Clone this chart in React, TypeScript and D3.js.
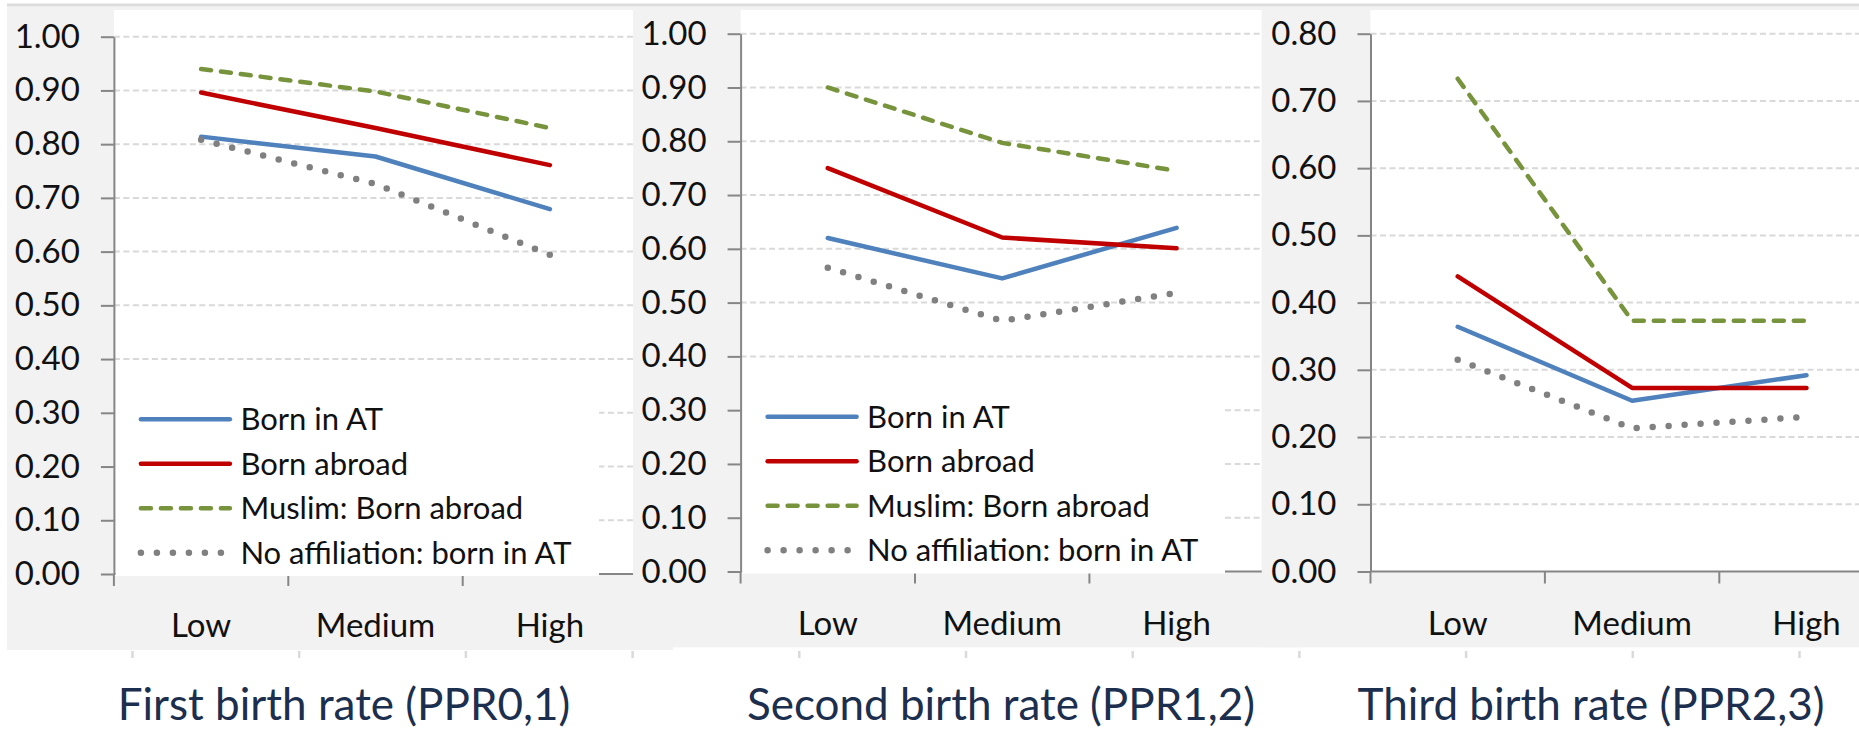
import React, { useRef, useEffect } from 'react';
import * as d3 from 'd3';

const categories = ['Low', 'Medium', 'High'];
const seriesNames = ['Born in AT', 'Born abroad', 'Muslim: Born abroad', 'No affiliation: born in AT'];

const firstBornInAT = [0.814, 0.777, 0.679];
const firstBornAbroad = [0.896, 0.830, 0.761];
const firstMuslimAbroad = [0.940, 0.898, 0.830];
const firstNoAffiliation = [0.808, 0.726, 0.594];

const secondBornInAT = [0.620, 0.545, 0.639];
const secondBornAbroad = [0.750, 0.621, 0.601];
const secondMuslimAbroad = [0.900, 0.797, 0.745];
const secondNoAffiliation = [0.565, 0.466, 0.518];

const thirdBornInAT = [0.364, 0.254, 0.292];
const thirdBornAbroad = [0.439, 0.273, 0.273];
const thirdMuslimAbroad = [0.733, 0.373, 0.373];
const thirdNoAffiliation = [0.315, 0.213, 0.230];

const ticksToOne = [0, 0.1, 0.2, 0.3, 0.4, 0.5, 0.6, 0.7, 0.8, 0.9, 1.0];
const ticksToEight = [0, 0.1, 0.2, 0.3, 0.4, 0.5, 0.6, 0.7, 0.8];

const titles = ['First birth rate (PPR0,1)', 'Second birth rate (PPR1,2)', 'Third birth rate (PPR2,3)'];

const styles = [
  { color: '#4f81bd', width: 4.5, dash: null as string | null },
  { color: '#c00000', width: 4.5, dash: null as string | null },
  { color: '#77933c', width: 4.5, dash: '10 10' as string | null },
  { color: '#808080', width: 6.5, dash: '0 16' as string | null },
];

const FONT = 'Lato, "Open Sans", sans-serif';
const BAND = 174.4;

type Panel = {
  series: number[][];
  ticks: number[];
  title: string;
  left: number;
  right: number;
  axisX: number;
  yBottom: number;
  yTop: number;
  grayBottom: number;
  labelY: number;
  titleX: number;
  legendRight: number | null;
};

const panels: Panel[] = [
  {
    series: [firstBornInAT, firstBornAbroad, firstMuslimAbroad, firstNoAffiliation],
    ticks: ticksToOne, title: titles[0],
    left: 7, right: 633, axisX: 113.9, yBottom: 574, yTop: 36.7,
    grayBottom: 650, labelY: 637, titleX: 344, legendRight: 599,
  },
  {
    series: [secondBornInAT, secondBornAbroad, secondMuslimAbroad, secondNoAffiliation],
    ticks: ticksToOne, title: titles[1],
    left: 633, right: 1261.7, axisX: 740.6, yBottom: 571.5, yTop: 33.7,
    grayBottom: 647.3, labelY: 635, titleX: 1001, legendRight: 1225,
  },
  {
    series: [thirdBornInAT, thirdBornAbroad, thirdMuslimAbroad, thirdNoAffiliation],
    ticks: ticksToEight, title: titles[2],
    left: 1261.7, right: 1859, axisX: 1370.5, yBottom: 571.5, yTop: 33.7,
    grayBottom: 647.3, labelY: 635, titleX: 1591, legendRight: null,
  },
];

const W = 1859;
const H = 729;

const BirthRates: React.FC = () => {
  const svgRef = useRef<SVGSVGElement | null>(null);

  useEffect(() => {
    if (!svgRef.current) return;
    const svg = d3.select(svgRef.current);
    svg.selectAll('*').remove();

    // thin top border
    svg.append('line')
      .attr('x1', 7).attr('x2', W).attr('y1', 5).attr('y2', 5)
      .attr('stroke', '#dcdcdc').attr('stroke-width', 3);

    // faint ticks of the axis behind the panels
    svg.append('g').selectAll('line')
      .data(d3.range(11).map(i => 132.5 + i * 166.7))
      .join('line')
      .attr('x1', d => d).attr('x2', d => d)
      .attr('y1', 651).attr('y2', 658)
      .attr('stroke', '#dadada').attr('stroke-width', 2.5);

    panels.forEach(p => {
      const g = svg.append('g');
      const yMax = p.ticks[p.ticks.length - 1];

      const x = d3.scaleBand<string>()
        .domain(categories)
        .range([p.axisX, p.axisX + BAND * categories.length]);
      const cx = (c: string) => (x(c) as number) + x.bandwidth() / 2;

      const y = d3.scaleLinear()
        .domain([0, yMax])
        .range([p.yBottom, p.yTop]);

      // panel background and plot area
      g.append('rect')
        .attr('x', p.left).attr('y', 7)
        .attr('width', p.right - p.left + 40).attr('height', p.grayBottom - 7)
        .attr('fill', '#f2f2f2');
      g.append('rect')
        .attr('x', p.axisX).attr('y', 10)
        .attr('width', p.right - p.axisX + 40).attr('height', p.yBottom - 10)
        .attr('fill', '#ffffff');

      // gridlines
      g.append('g').selectAll('line')
        .data(p.ticks.filter(t => t > 0))
        .join('line')
        .attr('x1', p.axisX).attr('x2', W)
        .attr('y1', d => y(d)).attr('y2', d => y(d))
        .attr('stroke', '#d9d9d9').attr('stroke-width', 2)
        .attr('stroke-dasharray', '6 3.5');

      // x axis line and ticks
      g.append('line')
        .attr('x1', p.axisX).attr('x2', W)
        .attr('y1', y(0)).attr('y2', y(0))
        .attr('stroke', '#868686').attr('stroke-width', 2);
      g.append('g').selectAll('line')
        .data([...categories.map(c => x(c) as number), p.axisX + BAND * categories.length])
        .join('line')
        .attr('x1', d => d).attr('x2', d => d)
        .attr('y1', y(0)).attr('y2', y(0) + 12)
        .attr('stroke', '#868686').attr('stroke-width', 2);

      // category labels
      g.append('g').selectAll('text')
        .data(categories)
        .join('text')
        .attr('x', d => cx(d))
        .attr('y', p.labelY)
        .attr('text-anchor', 'middle')
        .attr('font-family', FONT).attr('font-size', 33)
        .attr('fill', '#111')
        .text(d => d);

      // legend box covers grid and axis line
      if (p.legendRight !== null) {
        const lg = g.append('g');
        lg.append('rect')
          .attr('x', p.axisX + 1.5).attr('y', 392)
          .attr('width', p.legendRight - p.axisX - 1.5).attr('height', p.yBottom + 2 - 392)
          .attr('fill', '#ffffff');
        seriesNames.forEach((name, i) => {
          const ly = p.yBottom - 154.7 + i * 44.5;
          const s = styles[i];
          lg.append('line')
            .attr('x1', p.axisX + 27).attr('x2', p.axisX + 116)
            .attr('y1', ly).attr('y2', ly)
            .attr('stroke', s.color).attr('stroke-width', s.width)
            .attr('stroke-linecap', 'round')
            .attr('stroke-dasharray', s.dash);
          lg.append('text')
            .attr('x', p.axisX + 126.5).attr('y', ly)
            .attr('dy', '0.36em')
            .attr('font-family', FONT).attr('font-size', 31)
            .attr('fill', '#111')
            .text(name);
        });
      }

      // y axis
      const yAxis = g.append('g')
        .attr('transform', `translate(${p.axisX},0)`)
        .call(d3.axisLeft(y).tickValues(p.ticks).tickFormat(d3.format('.2f'))
          .tickSize(13).tickSizeOuter(0).tickPadding(21));
      yAxis.select('.domain').attr('stroke', '#868686').attr('stroke-width', 2);
      yAxis.selectAll('.tick line').attr('stroke', '#868686').attr('stroke-width', 2);
      yAxis.selectAll('.tick text')
        .attr('font-family', FONT).attr('font-size', 33).attr('fill', '#111');

      // series lines
      const line = d3.line<number>()
        .x((_, i) => cx(categories[i]))
        .y(d => y(d));
      p.series.forEach((values, i) => {
        const s = styles[i];
        g.append('path')
          .datum(values)
          .attr('d', line)
          .attr('fill', 'none')
          .attr('stroke', s.color)
          .attr('stroke-width', s.width)
          .attr('stroke-linecap', 'round')
          .attr('stroke-linejoin', 'round')
          .attr('stroke-dasharray', s.dash);
      });
    });

    // titles below the panels
    svg.append('g').selectAll('text')
      .data(panels)
      .join('text')
      .attr('x', d => d.titleX)
      .attr('y', 720)
      .attr('text-anchor', 'middle')
      .attr('font-family', FONT).attr('font-size', 44)
      .attr('fill', '#1c2f4e')
      .text(d => d.title);
  }, []);

  return (
    <svg ref={svgRef} width={W} height={H}
      style={{ position: 'absolute', left: 0, top: 0, display: 'block', background: '#fff' }} />
  );
};

export default function App() {
  return <BirthRates />;
}
